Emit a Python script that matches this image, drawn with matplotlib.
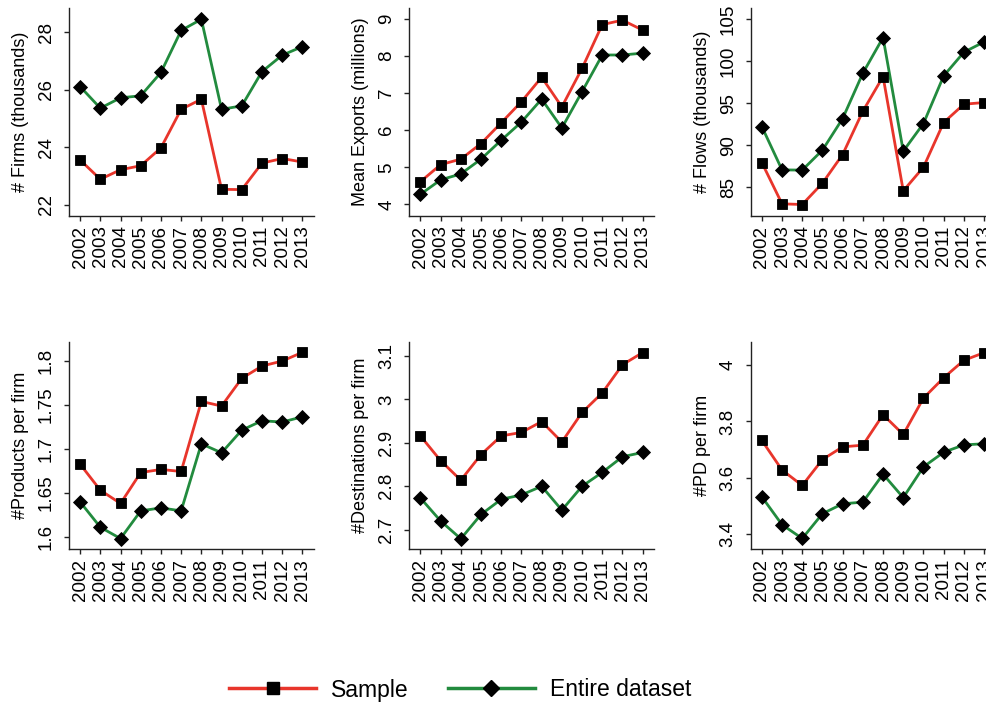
import numpy as np
import matplotlib
matplotlib.use("Agg")
import matplotlib.pyplot as plt
from matplotlib.lines import Line2D

plt.rcParams['font.family'] = ['Liberation Sans', 'DejaVu Sans']

years = list(range(2002, 2014))

firms_sample = [23.56, 22.89, 23.22, 23.36, 23.98, 25.32, 25.67, 22.54, 22.53, 23.45, 23.61, 23.49]
firms_all = [26.11, 25.36, 25.72, 25.79, 26.60, 28.06, 28.45, 25.32, 25.44, 26.63, 27.20, 27.50]

exports_sample = [4.61, 5.07, 5.22, 5.64, 6.20, 6.77, 7.43, 6.63, 7.67, 8.85, 8.97, 8.70]
exports_all = [4.27, 4.66, 4.82, 5.22, 5.73, 6.22, 6.84, 6.06, 7.04, 8.03, 8.03, 8.08]

flows_sample = [87.96, 83.06, 82.98, 85.51, 88.91, 94.05, 98.16, 84.60, 87.41, 92.71, 94.88, 95.08]
flows_all = [92.23, 87.09, 87.06, 89.43, 93.18, 98.56, 102.79, 89.31, 92.59, 98.24, 101.05, 102.27]

products_sample = [1.6827, 1.6531, 1.6380, 1.6732, 1.6767, 1.6744, 1.7541, 1.7488, 1.7803, 1.7943, 1.8000, 1.8099]
products_all = [1.6398, 1.6110, 1.5981, 1.6296, 1.6330, 1.6296, 1.7059, 1.6956, 1.7214, 1.7321, 1.7306, 1.7366]

dest_sample = [2.916, 2.859, 2.814, 2.873, 2.916, 2.924, 2.949, 2.902, 2.970, 3.015, 3.080, 3.108]
dest_all = [2.773, 2.720, 2.679, 2.735, 2.770, 2.780, 2.800, 2.745, 2.800, 2.832, 2.868, 2.878]

pd_sample = [3.733, 3.628, 3.573, 3.665, 3.710, 3.716, 3.824, 3.754, 3.883, 3.955, 4.017, 4.044]
pd_all = [3.533, 3.434, 3.385, 3.473, 3.508, 3.514, 3.613, 3.530, 3.639, 3.691, 3.717, 3.721]

panels = [
    ("# Firms (thousands)", firms_sample, firms_all, [22, 24, 26, 28], ["22", "24", "26", "28"], (21.62, 28.83)),
    ("Mean Exports (millions)", exports_sample, exports_all, [4, 5, 6, 7, 8, 9], ["4", "5", "6", "7", "8", "9"], (3.69, 9.29)),
    ("# Flows (thousands)", flows_sample, flows_all, [85, 90, 95, 100, 105], ["85", "90", "95", "100", "105"], (81.64, 106.26)),
    ("#Products per firm", products_sample, products_all, [1.6, 1.65, 1.7, 1.75, 1.8], ["1.6", "1.65", "1.7", "1.75", "1.8"], (1.586, 1.822)),
    ("#Destinations per firm", dest_sample, dest_all, [2.7, 2.8, 2.9, 3.0, 3.1], ["2.7", "2.8", "2.9", "3", "3.1"], (2.655, 3.133)),
    ("#PD per firm", pd_sample, pd_all, [3.4, 3.6, 3.8, 4.0], ["3.4", "3.6", "3.8", "4"], (3.347, 4.083)),
]

red = '#e8352b'
green = '#228b3e'

fig = plt.figure(figsize=(9.87, 7.06), dpi=100)

W, H = 987, 706
lefts = [69, 409.3, 750.7]
tops = [8.3, 341.7]
aw, ah = 244.5, 207.5

for i, (label, s, a, ticks, tlabels, ylim) in enumerate(panels):
    r, c = divmod(i, 3)
    ax = fig.add_axes([lefts[c] / W, 1 - (tops[r] + ah) / H, aw / W, ah / H])
    # ligne + marqueurs pour chaque série
    ax.plot(years, a, color=green, lw=2, marker='D', ms=7, mfc='black', mec='black', mew=0.6)
    ax.plot(years, s, color=red, lw=2, marker='s', ms=7.2, mfc='black', mec='black', mew=0.6)
    ax.set_xlim(2001.45, 2013.55)
    ax.set_ylim(*ylim)
    ax.set_xticks(years)
    ax.set_xticklabels([str(y) for y in years], rotation=90)
    ax.set_yticks(ticks)
    ax.set_yticklabels(tlabels, rotation=90, va='center')
    ax.spines['top'].set_visible(False)
    ax.spines['right'].set_visible(False)
    for sp in ('left', 'bottom'):
        ax.spines[sp].set_linewidth(1)
        ax.spines[sp].set_color('#222222')
    ax.tick_params(axis='both', labelsize=13.5, length=3.5, width=1, color='#222222')
    ax.tick_params(axis='x', pad=3.5)
    ax.tick_params(axis='y', pad=6.5)
    ax.set_ylabel(label, fontsize=13)
    ax.yaxis.set_label_coords(-0.198, 0.5)
    ax.yaxis.label.set_verticalalignment('center')

handles = [
    Line2D([], [], color=red, lw=2.5, marker='s', ms=9, mfc='black', mec='black'),
    Line2D([], [], color=green, lw=2.5, marker='D', ms=8, mfc='black', mec='black'),
]
fig.legend(handles, ['Sample', 'Entire dataset'], loc='center',
           bbox_to_anchor=(460 / W, 1 - 690 / H), ncol=2, frameon=False,
           fontsize=16.5, handlelength=3.8, handletextpad=0.65, columnspacing=1.7)

fig.savefig('out.png', dpi=100)
